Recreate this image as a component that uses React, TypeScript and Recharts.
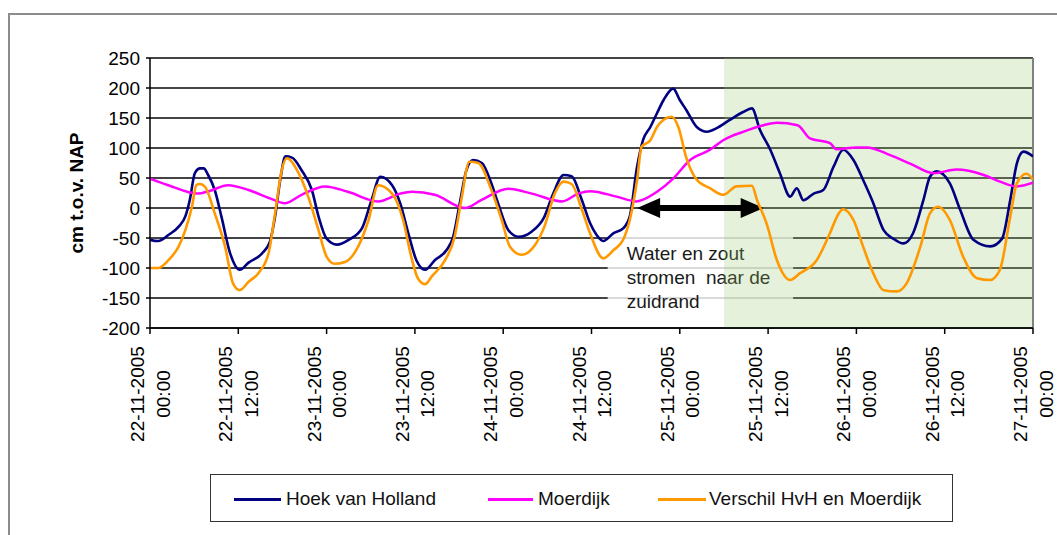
import React from 'react';
import { LineChart, Line, XAxis, YAxis, CartesianGrid, ReferenceArea, ReferenceLine } from 'recharts';

const FONT = '"Liberation Sans", Arial, sans-serif';

// x axis: hours since 22-11-2005 00:00
const xTickHours = [0, 12, 24, 36, 48, 60, 72, 84, 96, 108, 120];
const xTickDates = ['22-11-2005', '22-11-2005', '23-11-2005', '23-11-2005', '24-11-2005', '24-11-2005', '25-11-2005', '25-11-2005', '26-11-2005', '26-11-2005', '27-11-2005'];
const xTickTimes = ['00:00', '12:00', '00:00', '12:00', '00:00', '12:00', '00:00', '12:00', '00:00', '12:00', '00:00'];
const yTicks = [-200, -150, -100, -50, 0, 50, 100, 150, 200, 250];

const hvhHours = [0,1.1,2.5,3.9,4.8,5.4,6.1,6.8,7.3,7.9,8.8,9.7,10.9,12.2,13.4,15.2,16.3,17,17.7,18.4,19.3,20.6,22,22.9,24,25.4,27,28.8,30.1,31.3,32.9,34,35.1,36.2,37.4,38.7,40.3,41.2,42.1,43,43.9,45.1,46.4,47.3,48.7,50.1,51.9,53.5,54.8,56.2,57.3,58.7,59.8,60.7,61.6,63,64.3,65.2,66.2,67,68,68.9,69.8,71.1,72,72.9,74.3,75.7,77,78.8,80.6,81.8,82.9,84.3,85.6,87,87.9,88.8,90.2,91.5,92.9,94.2,95.6,96.9,98.3,99.7,101,102.4,103.7,105.1,106,106.9,108.7,110.1,111.9,114.2,115.8,116.9,117.8,118.7,120];
const hvhLevels = [-53,-55,-45,-31,-14,13,58,66,66,55,30,-14,-76,-103,-91,-76,-56,-14,47,86,84,63,30,-14,-51,-61,-53,-34,13,52,38,8,-42,-87,-103,-87,-70,-48,8,63,80,75,41,8,-37,-48,-39,-17,24,55,53,13,-25,-45,-55,-42,-34,-14,69,113,135,158,180,199,180,163,135,127,133,147,160,166,130,97,58,19,33,13,24,30,69,97,80,47,8,-37,-51,-59,-42,13,52,61,41,-3,-53,-64,-51,13,74,94,86];

const mdHours = [0,2.5,6.5,8,10.6,13.4,16.3,18.3,20.6,23.8,26.9,31,34,35.6,38.7,42.8,45,48.7,51.9,56,58.2,59.8,63.4,66.1,68.9,71.1,73.4,76.1,77.9,80.6,83.4,85.2,88,89.7,92.4,93.3,96,97.4,100.6,103.3,106.5,109.6,113.3,115.5,117.8,120];
const mdLevels = [49,38,24,28,38,30,16,8,22,36,27,11,24,27,22,0,13,32,24,11,24,28,19,11,27,49,80,97,113,127,138,142,138,116,108,98,101,101,88,74,58,64,55,44,36,42];

const vsHours = [0,1.1,2.5,3.9,4.8,5.7,6.3,6.8,7.5,8.8,10.2,11.3,12.2,13.4,14.7,16.1,17,17.9,18.6,20.2,21.5,22.9,24,25.1,26.5,28.3,29.7,31,32.9,34.4,35.5,36.4,37.4,38.3,40.1,41.4,42.3,43.4,44.6,46.4,47.8,48.9,50.5,52.3,53.6,55,56.2,57.3,58.7,59.8,61.6,63,64.3,65.2,66.2,66.8,68,68.9,69.8,70.9,71.8,72.9,74.3,76.1,77.9,79.7,81.8,82.5,83.8,85.2,87,88.3,90.6,92.4,93.6,94.2,95.6,96.9,98.3,99.7,101.5,102.8,104.7,106,107.1,108.7,110.5,112.4,114.2,115.5,116.9,117.8,119.1,120];
const vsLevels = [-100,-100,-87,-64,-37,2,38,40,35,-9,-64,-126,-137,-123,-109,-76,-9,63,83,58,19,-37,-81,-93,-90,-64,-20,38,24,-20,-81,-117,-127,-114,-87,-48,13,77,75,30,-20,-64,-78,-62,-31,24,44,40,-3,-42,-84,-70,-53,-20,47,102,113,135,147,152,135,83,47,33,22,36,37,13,-26,-87,-120,-109,-87,-42,-9,-2,-20,-64,-109,-137,-139,-126,-64,-9,2,-20,-81,-117,-120,-103,-15,41,57,47];

const seriesNames = ['Hoek van Holland', 'Moerdijk', 'Verschil HvH en Moerdijk'];
const seriesColors = ['#000080', '#ff00ff', '#ff9900'];

// annotations (in data units)
const zoneStart = 78;
const zoneEnd = 120;
const arrowFrom = 66.2;
const arrowTo = 83.4;
const noteX1 = 62.2;
const noteX2 = 87.4;
const noteTop = -28;
const noteBottom = -187;
const noteLines = ['Water en zout', 'stromen  naar de', 'zuidrand'];

const toPoints = (hours: number[], levels: number[]) => hours.map((h, i) => ({ h, v: levels[i] }));
const hvhData = toPoints(hvhHours, hvhLevels);
const mdData = toPoints(mdHours, mdLevels);
const vsData = toPoints(vsHours, vsLevels);

const XTick = (props: any) => {
  const { x, y, payload } = props;
  const i = xTickHours.indexOf(payload.value);
  return (
    <g transform={`translate(${x},${y})`}>
      <text transform="rotate(-90)" textAnchor="middle" fontSize={19} fontFamily={FONT} fill="#000">
        <tspan x={-58} y={-6}>{xTickDates[i]}</tspan>
        <tspan x={-58} y={19.5}>{xTickTimes[i]}</tspan>
      </text>
    </g>
  );
};

const ArrowShape = (p: any) => {
  const { x1, y1, x2 } = p;
  if (x1 == null) return null;
  const hl = 23, hh = 10, sw = 3;
  const d = `M${x1},${y1} L${x1 + hl},${y1 - hh} L${x1 + hl},${y1 - sw} L${x2 - hl},${y1 - sw} L${x2 - hl},${y1 - hh} L${x2},${y1} L${x2 - hl},${y1 + hh} L${x2 - hl},${y1 + sw} L${x1 + hl},${y1 + sw} L${x1 + hl},${y1 + hh} Z`;
  return <path d={d} fill="#000" />;
};

const NoteShape = (p: any) => {
  const { x, y, width, height } = p;
  return (
    <g>
      <rect x={x} y={y} width={width} height={height} fill="#ffffff" fillOpacity={0.8} />
      {noteLines.map((t, i) => (
        <text key={i} x={x + 19} y={y + 35 + i * 24} fontSize={19} fontFamily={FONT} fill="#1a1a1a" style={{ whiteSpace: 'pre' }}>
          {t}
        </text>
      ))}
    </g>
  );
};

const YLabel = (p: any) => {
  const vb = p.viewBox || { x: 80, y: 58, width: 70, height: 270 };
  const cx = vb.x + 3;
  const cy = vb.y + vb.height / 2;
  return (
    <text x={cx} y={cy} transform={`rotate(-90, ${cx}, ${cy})`} textAnchor="middle" fontSize={19} fontWeight="bold" fontFamily={FONT} fill="#000">
      cm t.o.v. NAP
    </text>
  );
};

const legendLines = [
  { x: 23, w: 47, tx: 75 },
  { x: 277, w: 45, tx: 327 },
  { x: 447, w: 48, tx: 498 },
];

export default function App() {
  return (
    <div style={{ position: 'absolute', left: 0, top: 0, width: 1057, height: 535, overflow: 'hidden', background: '#fff' }}>
      <div style={{ position: 'absolute', left: 8, top: 13, width: 1200, height: 700, border: '2px solid #8c8c8c' }} />
      <div style={{ position: 'absolute', left: 0, top: 0 }}>
        <LineChart width={1057} height={535} margin={{ top: 58, right: 24, left: 80, bottom: 77 }}>
          <CartesianGrid horizontal vertical={false} stroke="#444" strokeWidth={1.8} />
          <XAxis
            type="number"
            dataKey="h"
            domain={[0, 120]}
            ticks={xTickHours}
            interval={0}
            height={130}
            tick={<XTick />}
            tickSize={6}
            axisLine={{ stroke: '#000', strokeWidth: 1.5 }}
            tickLine={{ stroke: '#000', strokeWidth: 1.5 }}
            allowDataOverflow
          />
          <YAxis
            type="number"
            domain={[-200, 250]}
            ticks={yTicks}
            interval={0}
            width={70}
            tickSize={4}
            tickMargin={6}
            tick={{ fontSize: 19, fill: '#000', fontFamily: FONT }}
            axisLine={{ stroke: '#000', strokeWidth: 1.5 }}
            tickLine={{ stroke: '#000', strokeWidth: 1.5 }}
            label={<YLabel />}
          />
          <ReferenceLine x={120} stroke="#808080" strokeWidth={2} />
          <ReferenceLine
            segment={[{ x: arrowFrom, y: 0 }, { x: arrowTo, y: 0 }]}
            shape={ArrowShape}
            stroke="#000"
          />
          <Line data={hvhData} dataKey="v" type="monotone" stroke={seriesColors[0]} strokeWidth={2.6} dot={false} isAnimationActive={false} name={seriesNames[0]} />
          <Line data={mdData} dataKey="v" type="monotone" stroke={seriesColors[1]} strokeWidth={2.5} dot={false} isAnimationActive={false} name={seriesNames[1]} />
          <Line data={vsData} dataKey="v" type="monotone" stroke={seriesColors[2]} strokeWidth={2.6} dot={false} isAnimationActive={false} name={seriesNames[2]} />
          <ReferenceArea x1={noteX1} x2={noteX2} y1={noteBottom} y2={noteTop} shape={NoteShape} />
          <ReferenceArea x1={zoneStart} x2={zoneEnd} fill="#97c76b" fillOpacity={0.25} stroke="none" />
        </LineChart>
      </div>
      <div style={{ position: 'absolute', left: 210, top: 474, width: 743, height: 48, border: '1.5px solid #333', background: '#fff', boxSizing: 'border-box' }}>
        {seriesNames.map((n, i) => (
          <React.Fragment key={n}>
            <div style={{ position: 'absolute', left: legendLines[i].x, top: 23, width: legendLines[i].w, height: 3, background: seriesColors[i] }} />
            <div style={{ position: 'absolute', left: legendLines[i].tx, top: 12, fontSize: 19, lineHeight: '24px', fontFamily: FONT, color: '#111', whiteSpace: 'nowrap' }}>{n}</div>
          </React.Fragment>
        ))}
      </div>
    </div>
  );
}
